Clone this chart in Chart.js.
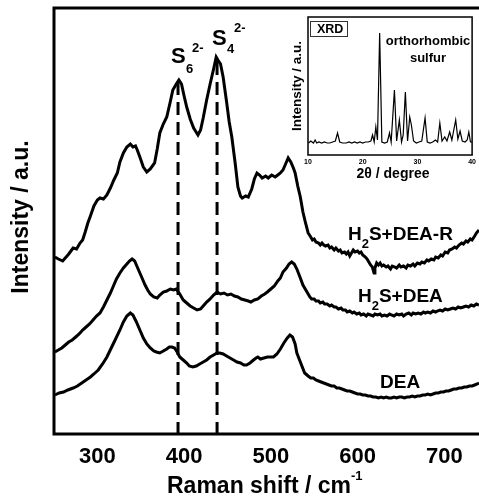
<!DOCTYPE html>
<html>
<head>
<meta charset="utf-8">
<script src="https://cdn.jsdelivr.net/npm/chart.js@4.4.1/dist/chart.umd.min.js"></script>
<style>
  html, body { margin: 0; padding: 0; background: #fff; }
  #wrap { position: relative; width: 479px; height: 496px; }
  #main { position: absolute; left: 0; top: 0; }
  #inset { position: absolute; left: 270px; top: 0; }
</style>
</head>
<body>
<div id="wrap">
  <canvas id="main" width="479" height="496"></canvas>
  <canvas id="inset" width="209" height="190"></canvas>
</div>
<script>
// Raman spectra, [shift cm-1, intensity a.u. (stacked offsets)]
const specR = [[251,177],[255,175],[260,173],[263,176],[267,180],[272,186],[276,185],[280,191],[283,194],[286,202],[289,211],[292,218],[296,228],[300,234],[303,236],[307,235],[311,239],[315,246],[319,254],[323,261],[326,272],[330,281],[334,287],[338,290],[341,287],[344,288],[346,284],[349,277],[353,267],[357,262],[361,265],[366,271],[369,285],[372,301],[376,310],[380,317],[384,332],[387,344],[391,350],[394,354],[397,350],[400,338],[403,327],[407,315],[411,306],[416,299],[419,304],[422,316],[426,334],[430,350],[434,365],[437,377],[439,374],[442,370],[445,357],[449,332],[452,312],[455,297],[459,270],[462,247],[465,238],[467,236],[471,238],[474,237],[478,245],[481,255],[484,261],[487,259],[490,256],[494,258],[497,256],[501,259],[505,257],[508,259],[511,261],[514,264],[517,270],[520,276],[523,272],[526,266],[528,261],[531,248],[534,237],[537,222],[540,211],[543,201],
  [546,197],[548,194],[550,195],[552,192],[555,191],[557,189],[559,191],[561,189],[563,188],[566,189],[568,186],[570,187],[573,184],[575,186],[578,183],[580,184],[582,181],[585,182],[587,180],[589,182],[591,178],[593,181],[595,184],[597,182],[600,183],[602,181],[604,182],[606,179],[609,177],[611,175],[613,172],[615,169],[617,167],[619,161],[620,166],[622,171],[624,169],[626,171],[628,168],[630,169],[633,167],[635,168],[638,165],[640,168],[643,167],[645,166],[648,169],[650,167],[653,168],[656,166],[658,169],[661,168],[664,170],[666,168],[669,171],[672,170],[674,172],[677,171],[680,174],[682,173],[685,175],[688,174],[690,177],[693,176],[696,179],[698,178],[701,182],[704,181],[706,184],[709,185],[712,187],[714,186],[717,189],[720,191],[722,190],[725,193],[727,192],[730,195],[732,194],[735,198],[737,201],[740,204]];

const specM = [[251,82],[255,84],[259,86],[263,89],[267,92],[271,94],[275,97],[279,100],[283,104],[287,107],[291,110],[295,114],[299,118],[303,121],[307,127],[311,134],[315,141],[318,147],[322,155],[326,161],[330,166],[334,170],[337,173],[340,175],[343,173],[346,167],[349,161],[352,155],[355,149],[358,144],[361,140],[365,137],[369,136],[372,139],[376,142],[380,143],[384,145],[388,144],[391,145],[395,140],[399,134],[403,131],[407,128],[411,126],[415,124],[419,125],[423,129],[426,132],[430,135],[434,139],[438,142],[442,140],[446,141],[450,139],[454,140],[458,138],[462,137],[466,135],[470,134],[474,133],[477,132],[481,134],[485,135],[489,138],[493,140],[496,142],[500,145],[504,148],[508,153],[511,156],[514,162],[518,166],[521,170],[524,172],[527,170],[530,165],[534,156],[537,149],[541,143],
  [545,137],[547,135],[550,135],[552,133],[555,133],[557,131],[560,132],[562,130],[565,130],[568,128],[570,129],[573,127],[575,127],[578,125],[581,126],[583,124],[586,124],[588,122],[591,123],[594,121],[596,122],[599,120],[602,121],[604,119],[607,120],[610,118],[612,120],[615,119],[618,118],[620,120],[623,119],[626,120],[628,118],[631,119],[634,118],[637,120],[639,119],[642,118],[645,120],[648,119],[651,120],[653,118],[656,120],[659,121],[662,119],[664,121],[667,120],[670,121],[673,120],[676,122],[678,121],[681,122],[684,121],[687,123],[690,122],[692,123],[695,124],[698,123],[701,125],[704,124],[707,125],[710,126],[713,125],[716,127],[719,126],[722,127],[725,128],[728,127],[731,129],[734,128],[737,130],[740,129]];

const specD = [[251,39],[256,41],[261,42],[266,44],[272,46],[277,48],[282,51],[287,54],[292,57],[296,60],[301,64],[306,70],[311,77],[316,86],[321,95],[326,104],[330,112],[334,118],[338,121],[341,119],[345,112],[349,104],[353,96],[357,90],[361,86],[365,83],[368,82],[372,81],[376,83],[380,85],[383,87],[386,87],[389,86],[392,82],[395,77],[399,74],[403,71],[406,68],[410,67],[414,68],[418,70],[422,72],[426,74],[430,77],[434,79],[438,81],[441,81],[445,80],[449,78],[453,76],[457,74],[461,72],[465,71],[469,69],[472,69],[476,71],[480,74],[483,76],[485,77],[488,75],[492,76],[496,77],[500,77],[503,77],[507,80],[511,85],[515,91],[519,96],[522,99],[525,97],[528,90],[530,81],[534,72],[539,61],
  [543,58],[546,56],[549,56],[552,54],[555,53],[558,52],[561,51],[564,50],[567,49],[570,48],[573,48],[576,46],[579,46],[582,45],[585,44],[588,43],[591,43],[594,42],[597,41],[600,40],[603,40],[606,39],[609,39],[612,38],[615,38],[618,37],[621,37],[624,36],[627,37],[630,36],[633,37],[636,36],[639,36],[642,37],[645,36],[648,37],[651,37],[654,36],[657,37],[660,37],[663,38],[666,37],[669,38],[672,38],[675,39],[678,39],[681,40],[684,39],[687,40],[690,41],[693,41],[696,42],[699,42],[702,43],[705,43],[708,44],[711,45],[714,45],[717,46],[720,46],[723,47],[726,47],[729,48],[732,48],[735,49],[738,50],[740,51]];

// polysulfide marker lines: [shift, top of dash]
const marks = [[393, 352], [438, 372]];

const xTicks = [300, 400, 500, 600, 700];

// XRD inset pattern, [2theta, intensity]
const xrd = [[10.1,12],[10.5,14],[11,12],[11.3,15],[11.6,12],[12,13],[12.5,12],[13,13],[13.5,12],[14,12],[14.5,13],[15,14],[15.4,22],[15.8,13],[16.3,12],[17,12],[17.5,13],[18,12],[18.5,13],[19,12],[19.5,13],[20,12],[20.5,13],[21,13],[21.5,14],[21.8,20],[22.1,13],[22.4,28],[22.7,15],[23.1,122],[23.5,13],[24,12],[24.5,13],[24.9,22],[25.2,13],[25.8,65],[26.2,14],[26.7,35],[27.1,13],[27.4,20],[27.8,63],[28.2,14],[28.6,38],[28.9,30],[29.3,14],[29.8,12],[30.3,13],[30.8,14],[31.4,37],[31.8,13],[32.3,12],[32.8,13],[33.3,15],[33.7,13],[34.1,32],[34.5,14],[35,18],[35.4,14],[35.9,23],[36.3,15],[37,35],[37.4,16],[37.8,24],[38.2,14],[38.7,13],[39.1,15],[39.4,23],[39.7,13],[40,13]];
const xrdTicks = [10, 20, 30, 40];

const FONT = '"Liberation Sans", Arial, Helvetica, sans-serif';
const pts = arr => arr.map(p => ({ x: p[0], y: p[1] }));

function runs(ctx, x, y, parts) {
  // parts: [text, size, dy]
  parts.forEach(p => {
    ctx.font = 'bold ' + p[1] + 'px ' + FONT;
    ctx.fillText(p[0], x, y + p[2]);
    x += ctx.measureText(p[0]).width;
  });
}

const mainText = {
  id: 'mainText',
  afterDraw(chart) {
    const ctx = chart.ctx, a = chart.chartArea;
    ctx.save();
    ctx.strokeStyle = '#000';
    ctx.lineWidth = 3;
    ctx.beginPath();
    ctx.moveTo(a.right + 3, a.top);
    ctx.lineTo(a.left, a.top);
    ctx.lineTo(a.left, a.bottom);
    ctx.lineTo(a.right + 3, a.bottom);
    ctx.stroke();

    ctx.fillStyle = '#000';
    ctx.textBaseline = 'alphabetic';
    ctx.textAlign = 'left';
    runs(ctx, 171, 63, [['S', 22, 0]]);
    runs(ctx, 186, 73, [['6', 13, 0]]);
    runs(ctx, 192, 52, [['2-', 13, 0]]);
    runs(ctx, 212, 45, [['S', 22, 0]]);
    runs(ctx, 227, 53, [['4', 13, 0]]);
    runs(ctx, 234, 32, [['2-', 13, 0]]);

    runs(ctx, 348, 240, [['H', 19, 0], ['2', 13, 8], ['S+DEA-R', 19, 0]]);
    runs(ctx, 358, 302, [['H', 19, 0], ['2', 13, 8], ['S+DEA', 19, 0]]);
    runs(ctx, 380, 388, [['DEA', 19, 0]]);

    runs(ctx, 167, 493, [['Raman shift / cm', 23, 0], ['-1', 13, -13]]);

    ctx.translate(28, 217);
    ctx.rotate(-Math.PI / 2);
    ctx.textAlign = 'center';
    ctx.font = 'bold 23px ' + FONT;
    ctx.fillText('Intensity / a.u.', 0, 0);
    ctx.restore();
  }
};

new Chart(document.getElementById('main'), {
  type: 'line',
  data: {
    datasets: [
      { label: 'H2S+DEA-R', data: pts(specR) },
      { label: 'H2S+DEA', data: pts(specM) },
      { label: 'DEA', data: pts(specD) },
      { label: 'S6', data: [{ x: marks[0][0], y: marks[0][1] }, { x: marks[0][0], y: 0 }], borderDash: [13, 7] },
      { label: 'S4', data: [{ x: marks[1][0], y: marks[1][1] }, { x: marks[1][0], y: 0 }], borderDash: [13, 7] }
    ].map(d => Object.assign({ borderColor: '#000', borderWidth: 3, pointRadius: 0, tension: 0, fill: false }, d))
  },
  options: {
    responsive: false,
    devicePixelRatio: 1,
    animation: false,
    layout: { padding: { top: 8, left: 0, right: 0, bottom: 0 } },
    plugins: { legend: { display: false }, tooltip: { enabled: false } },
    scales: {
      x: {
        type: 'linear',
        min: 250,
        max: 740,
        afterBuildTicks: s => { s.ticks = xTicks.map(v => ({ value: v })); },
        afterFit: s => { s.height = 62; },
        grid: { display: false, drawTicks: false },
        border: { display: false },
        ticks: { color: '#000', padding: 10, maxRotation: 0, autoSkip: false, font: { family: FONT, size: 22, weight: 'bold' } }
      },
      y: {
        min: 0,
        max: 426,
        afterFit: s => { s.width = 54; },
        grid: { display: false, drawTicks: false },
        border: { display: false },
        ticks: { display: false }
      }
    }
  },
  plugins: [mainText]
});

const insetText = {
  id: 'insetText',
  afterDraw(chart) {
    const ctx = chart.ctx, a = chart.chartArea;
    ctx.save();
    ctx.strokeStyle = '#000';
    ctx.lineWidth = 1.5;
    ctx.strokeRect(a.left, a.top, a.right - a.left, a.bottom - a.top);
    ctx.lineWidth = 1;
    ctx.strokeStyle = '#333';
    ctx.strokeRect(a.left + 2.5, a.top + 4.5, 37, 15);
    ctx.fillStyle = '#000';
    ctx.textAlign = 'left';
    runs(ctx, a.left + 9, a.top + 16, [['XRD', 12.5, 0]]);
    ctx.textAlign = 'center';
    ctx.font = 'bold 13px ' + FONT;
    ctx.fillText('orthorhombic', 158, 45);
    ctx.fillText('sulfur', 158, 62);
    ctx.font = 'bold 14px ' + FONT;
    ctx.fillText('2\u03b8 / degree', 123, 178);
    ctx.translate(31, 86);
    ctx.rotate(-Math.PI / 2);
    ctx.font = 'bold 13.5px ' + FONT;
    ctx.fillText('Intensity / a.u.', 0, 0);
    ctx.restore();
  }
};

new Chart(document.getElementById('inset'), {
  type: 'line',
  data: {
    datasets: [{ data: pts(xrd), borderColor: '#000', borderWidth: 1.2, pointRadius: 0, tension: 0, fill: false }]
  },
  options: {
    responsive: false,
    devicePixelRatio: 1,
    animation: false,
    layout: { padding: { top: 17, left: 0, right: 4, bottom: 0 } },
    plugins: { legend: { display: false }, tooltip: { enabled: false } },
    scales: {
      x: {
        type: 'linear',
        min: 10,
        max: 40,
        afterBuildTicks: s => { s.ticks = xrdTicks.map(v => ({ value: v })); },
        afterFit: s => { s.height = 35; },
        grid: { display: false, drawTicks: false },
        border: { display: false },
        ticks: { color: '#000', padding: 3, maxRotation: 0, autoSkip: false, font: { family: FONT, size: 7, weight: 'bold' } }
      },
      y: {
        min: 0,
        max: 138,
        afterFit: s => { s.width = 38; },
        grid: { display: false, drawTicks: false },
        border: { display: false },
        ticks: { display: false }
      }
    }
  },
  plugins: [insetText]
});
</script>
</body>
</html>
